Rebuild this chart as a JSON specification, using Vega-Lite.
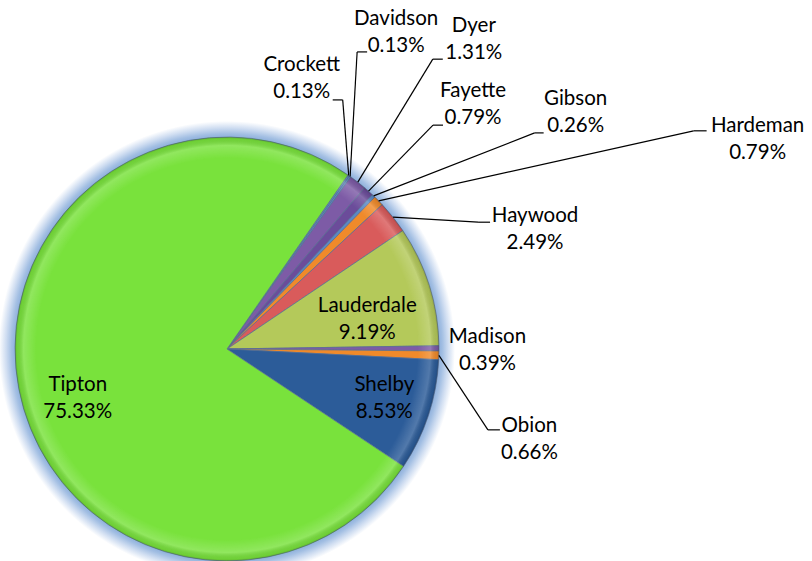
{
  "$schema": "https://vega.github.io/schema/vega-lite/v6.json",
  "width": 812,
  "height": 561,
  "padding": 0,
  "autosize": {"type": "none"},
  "background": "white",
  "config": {"view": {"stroke": null}},
  "data": {
    "values": [
      {"name": "Crockett", "pct": 0.13},
      {"name": "Davidson", "pct": 0.13},
      {"name": "Dyer", "pct": 1.31},
      {"name": "Fayette", "pct": 0.79},
      {"name": "Gibson", "pct": 0.26},
      {"name": "Hardeman", "pct": 0.79},
      {"name": "Haywood", "pct": 2.49},
      {"name": "Lauderdale", "pct": 9.19},
      {"name": "Madison", "pct": 0.39},
      {"name": "Obion", "pct": 0.66},
      {"name": "Shelby", "pct": 8.53},
      {"name": "Tipton", "pct": 75.33}
    ]
  },
  "transform": [
    {"stack": "pct", "groupby": [], "sort": [{"field": "name", "order": "ascending"}], "as": ["p0", "p1"]},
    {"calculate": "0.6074 + PI * (datum.p0 + datum.p1) / 100", "as": "mid"},
    {"calculate": "212 * sin(datum.mid)", "as": "rx"},
    {"calculate": "212 * cos(datum.mid)", "as": "ry"},
    {"calculate": "{Crockett:[-47,104.5,-6,75.5,-10],Davidson:[46,151.5,7,124.5,10],Dyer:[116,150,75,123,10],Fayette:[104.5,94,64.5,66,10],Gibson:[202,91,161,63,9],Hardeman:[379,69,315,70,13],Haywood:[142,-5,85,-5,12],Madison:[48.5,5.5],Obion:[90.5,-76.5,49,-74.5,12],Tipton:[59,-2],Lauderdale:[-62,-26.5],Shelby:[-44,24.5]}[datum.name]", "as": "o"},
    {"calculate": "datum.rx + datum.o[0]", "as": "tx"},
    {"calculate": "datum.ry + datum.o[1]", "as": "ty"},
    {"calculate": "datum.o.length > 2 ? datum.rx + datum.o[2] : null", "as": "ex"},
    {"calculate": "datum.o.length > 2 ? datum.ry + datum.o[3] : null", "as": "ey"},
    {"calculate": "datum.o.length > 2 ? datum.rx + datum.o[2] + datum.o[4] : null", "as": "kx"},
    {"calculate": "[datum.name, format(datum.pct, '.2f') + '%']", "as": "lbl"}
  ],
  "layer": [
    {
      "data": {"values": [{"ring": "glow"}]},
      "transform": [],
      "mark": {
        "type": "arc",
        "theta": 0,
        "theta2": 6.2832,
        "outerRadius": 228,
        "fill": {
          "gradient": "radial",
          "x1": 0.5, "y1": 0.5, "r1": 0,
          "x2": 0.5, "y2": 0.5, "r2": 0.5,
          "stops": [
            {"offset": 0, "color": "#8aaddb"},
            {"offset": 0.925, "color": "#8aaddb"},
            {"offset": 0.945, "color": "#a3bfe3"},
            {"offset": 0.97, "color": "#cfddf1"},
            {"offset": 1, "color": "#ffffff"}
          ]
        }
      },
      "encoding": {
        "x": {"datum": 0, "type": "quantitative", "scale": {"domain": [-227, 585], "nice": false, "zero": false}, "axis": null},
        "y": {"datum": 0, "type": "quantitative", "scale": {"domain": [-212, 349], "nice": false, "zero": false}, "axis": null}
      }
    },
    {
      "mark": {"type": "arc", "outerRadius": 212, "stroke": "#5a7090", "strokeWidth": 0.7},
      "encoding": {
        "x": {"datum": 0, "type": "quantitative"},
        "y": {"datum": 0, "type": "quantitative"},
        "theta": {"field": "p0", "type": "quantitative", "scale": {"domain": [0, 100], "range": [0.6074, 6.8906]}},
        "theta2": {"field": "p1"},
        "color": {
          "field": "name",
          "type": "nominal",
          "legend": null,
          "scale": {
            "domain": ["Crockett", "Davidson", "Dyer", "Fayette", "Gibson", "Hardeman", "Haywood", "Lauderdale", "Madison", "Obion", "Shelby", "Tipton"],
            "range": ["#5b88c5", "#5b88c5", "#7d5ba6", "#6b4c9a", "#5b88c5", "#f08a2a", "#d95b5b", "#b4c95a", "#7d5ba6", "#f08a2a", "#2c5c99", "#79e23c"]
          }
        }
      }
    },
    {
      "data": {"values": [{"ring": "shade"}]},
      "transform": [],
      "mark": {
        "type": "arc",
        "theta": 0,
        "theta2": 6.2832,
        "outerRadius": 212,
        "fill": {
          "gradient": "radial",
          "x1": 0.5, "y1": 0.5, "r1": 0,
          "x2": 0.5, "y2": 0.5, "r2": 0.5,
          "stops": [
            {"offset": 0, "color": "rgba(255,255,255,0)"},
            {"offset": 0.9, "color": "rgba(255,255,255,0)"},
            {"offset": 0.96, "color": "rgba(255,255,255,0.18)"},
            {"offset": 0.99, "color": "rgba(0,0,0,0.08)"},
            {"offset": 1, "color": "rgba(0,0,0,0.2)"}
          ]
        }
      },
      "encoding": {
        "x": {"datum": 0, "type": "quantitative"},
        "y": {"datum": 0, "type": "quantitative"}
      }
    },
    {
      "transform": [{"filter": "datum.ex != null"}],
      "mark": {"type": "rule", "color": "#000000", "strokeWidth": 1.2},
      "encoding": {
        "x": {"field": "rx", "type": "quantitative"},
        "y": {"field": "ry", "type": "quantitative"},
        "x2": {"field": "ex"},
        "y2": {"field": "ey"}
      }
    },
    {
      "transform": [{"filter": "datum.ex != null"}],
      "mark": {"type": "rule", "color": "#000000", "strokeWidth": 1.2},
      "encoding": {
        "x": {"field": "ex", "type": "quantitative"},
        "y": {"field": "ey", "type": "quantitative"},
        "x2": {"field": "kx"},
        "y2": {"field": "ey"}
      }
    },
    {
      "mark": {"type": "text", "font": "Lato", "fontSize": 20.5, "lineHeight": 27, "align": "center", "baseline": "alphabetic", "color": "#000000"},
      "encoding": {
        "x": {"field": "tx", "type": "quantitative"},
        "y": {"field": "ty", "type": "quantitative"},
        "text": {"field": "lbl", "type": "nominal"}
      }
    }
  ]
}
